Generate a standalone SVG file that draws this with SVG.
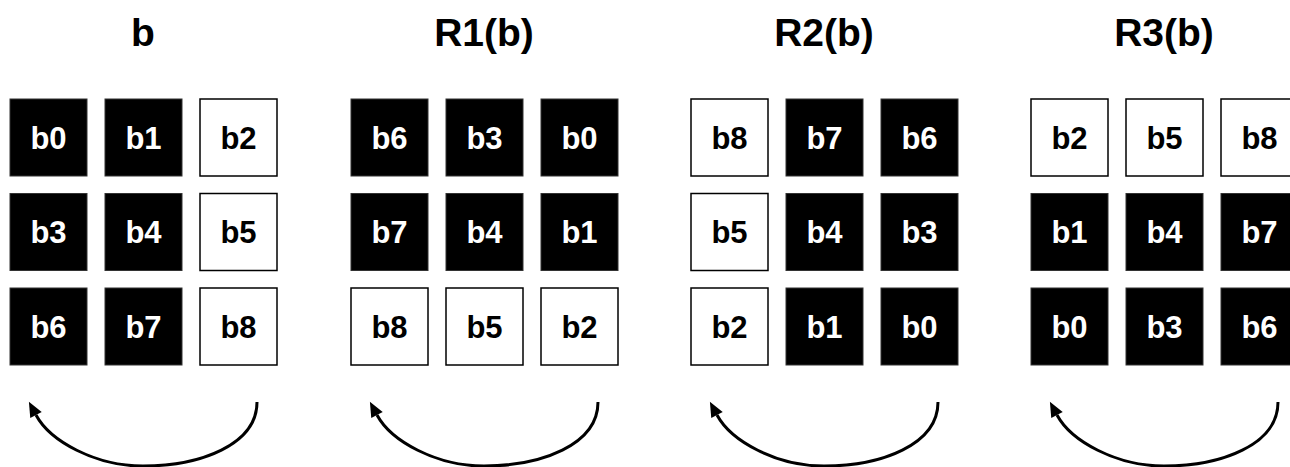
<svg xmlns="http://www.w3.org/2000/svg" width="1290" height="467" viewBox="0 0 1290 467">
<style>
.title{font-family:"Liberation Sans",Arial,sans-serif;font-weight:bold;font-size:39px;fill:#000;text-anchor:middle}
.lbl{font-family:"Liberation Sans",Arial,sans-serif;font-weight:bold;font-size:31px;text-anchor:middle}
.blk rect{fill:#000;stroke:#333;stroke-width:1}
.blk text{fill:#fff}
.wht rect{fill:#fff;stroke:#000;stroke-width:1.5}
.wht text{fill:#000}
.arc{fill:none;stroke:#000;stroke-width:3}
</style>
<defs>
<marker id="ah" markerUnits="userSpaceOnUse" markerWidth="20" markerHeight="16" refX="0" refY="0" viewBox="0 -8 20 16" orient="auto" overflow="visible">
<path d="M0,-6.5 L15,0 L0,6.5 z" fill="#000"/>
</marker>
<g id="arrow"><path class="arc" d="M257,402 C257,445 200,466 143,466 C95,466 50,441 36,415" marker-end="url(#ah)"/></g>
</defs>
<g id="titles">
<text class="title" x="143" y="46">b</text>
<text class="title" x="484" y="46">R1(b)</text>
<text class="title" x="824" y="46">R2(b)</text>
<text class="title" x="1164" y="46">R3(b)</text>
</g>
<g id="grid-b">
<g id="b-b0" class="blk"><rect x="10" y="99" width="77" height="77"/><text class="lbl" x="48.5" y="148.5">b0</text></g>
<g id="b-b1" class="blk"><rect x="105" y="99" width="77" height="77"/><text class="lbl" x="143.5" y="148.5">b1</text></g>
<g id="b-b2" class="wht"><rect x="200" y="99" width="77" height="77"/><text class="lbl" x="238.5" y="148.5">b2</text></g>
<g id="b-b3" class="blk"><rect x="10" y="193.5" width="77" height="77"/><text class="lbl" x="48.5" y="243">b3</text></g>
<g id="b-b4" class="blk"><rect x="105" y="193.5" width="77" height="77"/><text class="lbl" x="143.5" y="243">b4</text></g>
<g id="b-b5" class="wht"><rect x="200" y="193.5" width="77" height="77"/><text class="lbl" x="238.5" y="243">b5</text></g>
<g id="b-b6" class="blk"><rect x="10" y="288" width="77" height="77"/><text class="lbl" x="48.5" y="337.5">b6</text></g>
<g id="b-b7" class="blk"><rect x="105" y="288" width="77" height="77"/><text class="lbl" x="143.5" y="337.5">b7</text></g>
<g id="b-b8" class="wht"><rect x="200" y="288" width="77" height="77"/><text class="lbl" x="238.5" y="337.5">b8</text></g>
</g>
<g id="grid-r1">
<g id="r1-b6" class="blk"><rect x="351" y="99" width="77" height="77"/><text class="lbl" x="389.5" y="148.5">b6</text></g>
<g id="r1-b3" class="blk"><rect x="446" y="99" width="77" height="77"/><text class="lbl" x="484.5" y="148.5">b3</text></g>
<g id="r1-b0" class="blk"><rect x="541" y="99" width="77" height="77"/><text class="lbl" x="579.5" y="148.5">b0</text></g>
<g id="r1-b7" class="blk"><rect x="351" y="193.5" width="77" height="77"/><text class="lbl" x="389.5" y="243">b7</text></g>
<g id="r1-b4" class="blk"><rect x="446" y="193.5" width="77" height="77"/><text class="lbl" x="484.5" y="243">b4</text></g>
<g id="r1-b1" class="blk"><rect x="541" y="193.5" width="77" height="77"/><text class="lbl" x="579.5" y="243">b1</text></g>
<g id="r1-b8" class="wht"><rect x="351" y="288" width="77" height="77"/><text class="lbl" x="389.5" y="337.5">b8</text></g>
<g id="r1-b5" class="wht"><rect x="446" y="288" width="77" height="77"/><text class="lbl" x="484.5" y="337.5">b5</text></g>
<g id="r1-b2" class="wht"><rect x="541" y="288" width="77" height="77"/><text class="lbl" x="579.5" y="337.5">b2</text></g>
</g>
<g id="grid-r2">
<g id="r2-b8" class="wht"><rect x="691" y="99" width="77" height="77"/><text class="lbl" x="729.5" y="148.5">b8</text></g>
<g id="r2-b7" class="blk"><rect x="786" y="99" width="77" height="77"/><text class="lbl" x="824.5" y="148.5">b7</text></g>
<g id="r2-b6" class="blk"><rect x="881" y="99" width="77" height="77"/><text class="lbl" x="919.5" y="148.5">b6</text></g>
<g id="r2-b5" class="wht"><rect x="691" y="193.5" width="77" height="77"/><text class="lbl" x="729.5" y="243">b5</text></g>
<g id="r2-b4" class="blk"><rect x="786" y="193.5" width="77" height="77"/><text class="lbl" x="824.5" y="243">b4</text></g>
<g id="r2-b3" class="blk"><rect x="881" y="193.5" width="77" height="77"/><text class="lbl" x="919.5" y="243">b3</text></g>
<g id="r2-b2" class="wht"><rect x="691" y="288" width="77" height="77"/><text class="lbl" x="729.5" y="337.5">b2</text></g>
<g id="r2-b1" class="blk"><rect x="786" y="288" width="77" height="77"/><text class="lbl" x="824.5" y="337.5">b1</text></g>
<g id="r2-b0" class="blk"><rect x="881" y="288" width="77" height="77"/><text class="lbl" x="919.5" y="337.5">b0</text></g>
</g>
<g id="grid-r3">
<g id="r3-b2" class="wht"><rect x="1031" y="99" width="77" height="77"/><text class="lbl" x="1069.5" y="148.5">b2</text></g>
<g id="r3-b5" class="wht"><rect x="1126" y="99" width="77" height="77"/><text class="lbl" x="1164.5" y="148.5">b5</text></g>
<g id="r3-b8" class="wht"><rect x="1221" y="99" width="77" height="77"/><text class="lbl" x="1259.5" y="148.5">b8</text></g>
<g id="r3-b1" class="blk"><rect x="1031" y="193.5" width="77" height="77"/><text class="lbl" x="1069.5" y="243">b1</text></g>
<g id="r3-b4" class="blk"><rect x="1126" y="193.5" width="77" height="77"/><text class="lbl" x="1164.5" y="243">b4</text></g>
<g id="r3-b7" class="blk"><rect x="1221" y="193.5" width="77" height="77"/><text class="lbl" x="1259.5" y="243">b7</text></g>
<g id="r3-b0" class="blk"><rect x="1031" y="288" width="77" height="77"/><text class="lbl" x="1069.5" y="337.5">b0</text></g>
<g id="r3-b3" class="blk"><rect x="1126" y="288" width="77" height="77"/><text class="lbl" x="1164.5" y="337.5">b3</text></g>
<g id="r3-b6" class="blk"><rect x="1221" y="288" width="77" height="77"/><text class="lbl" x="1259.5" y="337.5">b6</text></g>
</g>
<g id="connectors">
<use href="#arrow" x="0" y="0"/>
<use href="#arrow" x="341" y="0"/>
<use href="#arrow" x="681" y="0"/>
<use href="#arrow" x="1021" y="0"/>
</g>
</svg>
